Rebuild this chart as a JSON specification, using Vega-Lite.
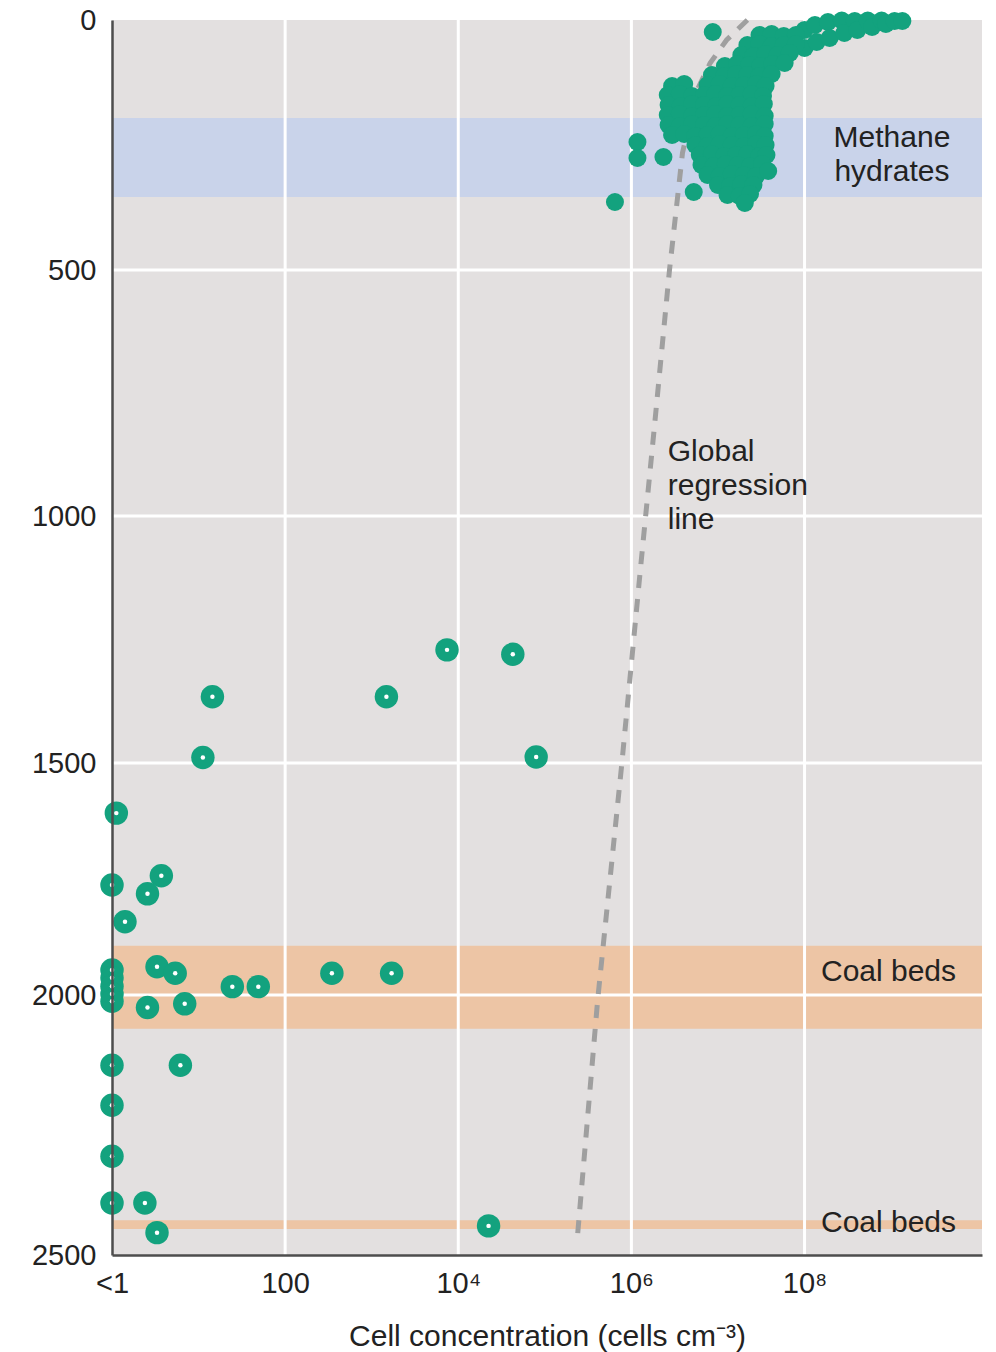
{
  "$schema": "https://vega.github.io/schema/vega-lite/v6.json",
  "width": 870,
  "height": 1235,
  "autosize": {"type": "none"},
  "padding": {"left": 112, "top": 20, "right": 14, "bottom": 97},
  "background": "white",
  "config": {"view": {"fill": "#e3e0e0", "stroke": null}, "font": "Liberation Sans"},
  "datasets": {
    "bands": [
      {"kind": "methane", "depth": 196, "depth_end": 354},
      {"kind": "coal", "depth": 1894, "depth_end": 2065},
      {"kind": "coal", "depth": 2433, "depth_end": 2450}
    ],
    "xgrid": [{"logc": 2}, {"logc": 4}, {"logc": 6}, {"logc": 8}],
    "ygrid": [{"depth": 500}, {"depth": 1000}, {"depth": 1500}, {"depth": 2000}],
    "line": [
      {"logc": 7.34, "depth": 0},
      {"logc": 7.10, "depth": 40},
      {"logc": 6.91, "depth": 86},
      {"logc": 6.76, "depth": 140},
      {"logc": 6.59, "depth": 266},
      {"logc": 6.44, "depth": 500},
      {"logc": 6.27, "depth": 811},
      {"logc": 6.10, "depth": 1115},
      {"logc": 5.89, "depth": 1500},
      {"logc": 5.61, "depth": 2010},
      {"logc": 5.38, "depth": 2458},
      {"logc": 5.37, "depth": 2471}
    ],
    "solid": [
      {"logc": 8.00, "depth": 20}, {"logc": 8.00, "depth": 56}, {"logc": 8.12, "depth": 10}, {"logc": 8.14, "depth": 44},
      {"logc": 8.27, "depth": 4}, {"logc": 8.29, "depth": 36}, {"logc": 8.43, "depth": 1}, {"logc": 8.46, "depth": 26},
      {"logc": 8.58, "depth": 2}, {"logc": 8.61, "depth": 20}, {"logc": 8.73, "depth": 1}, {"logc": 8.78, "depth": 14},
      {"logc": 8.89, "depth": 1}, {"logc": 8.94, "depth": 8}, {"logc": 9.04, "depth": 2}, {"logc": 9.13, "depth": 2},
      {"logc": 7.48, "depth": 30}, {"logc": 7.62, "depth": 28}, {"logc": 7.76, "depth": 32}, {"logc": 7.90, "depth": 30},
      {"logc": 7.34, "depth": 50}, {"logc": 7.48, "depth": 48}, {"logc": 7.62, "depth": 52}, {"logc": 7.76, "depth": 50}, {"logc": 7.90, "depth": 48},
      {"logc": 7.27, "depth": 70}, {"logc": 7.41, "depth": 72}, {"logc": 7.55, "depth": 68}, {"logc": 7.69, "depth": 70}, {"logc": 7.83, "depth": 66},
      {"logc": 7.08, "depth": 92}, {"logc": 7.22, "depth": 88}, {"logc": 7.36, "depth": 90}, {"logc": 7.49, "depth": 92}, {"logc": 7.63, "depth": 88}, {"logc": 7.77, "depth": 86},
      {"logc": 6.93, "depth": 110}, {"logc": 7.07, "depth": 112}, {"logc": 7.21, "depth": 108}, {"logc": 7.34, "depth": 110}, {"logc": 7.48, "depth": 112}, {"logc": 7.62, "depth": 108},
      {"logc": 6.47, "depth": 132}, {"logc": 6.61, "depth": 128}, {"logc": 6.88, "depth": 130}, {"logc": 7.02, "depth": 128}, {"logc": 7.16, "depth": 132}, {"logc": 7.30, "depth": 130}, {"logc": 7.44, "depth": 128}, {"logc": 7.55, "depth": 132},
      {"logc": 6.42, "depth": 150}, {"logc": 6.56, "depth": 148}, {"logc": 6.70, "depth": 152}, {"logc": 6.84, "depth": 150}, {"logc": 6.97, "depth": 148}, {"logc": 7.11, "depth": 152}, {"logc": 7.25, "depth": 150}, {"logc": 7.39, "depth": 148}, {"logc": 7.52, "depth": 152},
      {"logc": 6.43, "depth": 170}, {"logc": 6.57, "depth": 172}, {"logc": 6.70, "depth": 168}, {"logc": 6.84, "depth": 170}, {"logc": 6.98, "depth": 172}, {"logc": 7.11, "depth": 168}, {"logc": 7.25, "depth": 170}, {"logc": 7.39, "depth": 172}, {"logc": 7.53, "depth": 168},
      {"logc": 6.42, "depth": 190}, {"logc": 6.56, "depth": 188}, {"logc": 6.70, "depth": 192}, {"logc": 6.84, "depth": 190}, {"logc": 6.97, "depth": 188}, {"logc": 7.11, "depth": 192}, {"logc": 7.25, "depth": 190}, {"logc": 7.39, "depth": 188}, {"logc": 7.54, "depth": 192},
      {"logc": 6.43, "depth": 210}, {"logc": 6.56, "depth": 212}, {"logc": 6.70, "depth": 208}, {"logc": 6.84, "depth": 210}, {"logc": 6.97, "depth": 212}, {"logc": 7.11, "depth": 208}, {"logc": 7.25, "depth": 210}, {"logc": 7.39, "depth": 212}, {"logc": 7.54, "depth": 208},
      {"logc": 6.47, "depth": 230}, {"logc": 6.61, "depth": 228}, {"logc": 6.74, "depth": 232}, {"logc": 6.88, "depth": 230}, {"logc": 7.02, "depth": 228}, {"logc": 7.16, "depth": 232}, {"logc": 7.30, "depth": 230}, {"logc": 7.44, "depth": 228}, {"logc": 7.54, "depth": 232},
      {"logc": 6.74, "depth": 250}, {"logc": 6.88, "depth": 252}, {"logc": 7.02, "depth": 248}, {"logc": 7.16, "depth": 250}, {"logc": 7.30, "depth": 252}, {"logc": 7.44, "depth": 248}, {"logc": 7.55, "depth": 250},
      {"logc": 6.79, "depth": 270}, {"logc": 6.93, "depth": 268}, {"logc": 7.07, "depth": 272}, {"logc": 7.21, "depth": 270}, {"logc": 7.34, "depth": 268}, {"logc": 7.48, "depth": 272}, {"logc": 7.56, "depth": 270},
      {"logc": 6.81, "depth": 290}, {"logc": 6.95, "depth": 292}, {"logc": 7.09, "depth": 288}, {"logc": 7.23, "depth": 290}, {"logc": 7.37, "depth": 292}, {"logc": 7.51, "depth": 288},
      {"logc": 6.88, "depth": 310}, {"logc": 7.02, "depth": 312}, {"logc": 7.16, "depth": 308}, {"logc": 7.30, "depth": 310}, {"logc": 7.44, "depth": 312}, {"logc": 7.58, "depth": 302},
      {"logc": 7.00, "depth": 330}, {"logc": 7.14, "depth": 332}, {"logc": 7.27, "depth": 328}, {"logc": 7.41, "depth": 330},
      {"logc": 7.11, "depth": 350}, {"logc": 7.25, "depth": 352}, {"logc": 7.37, "depth": 348},
      {"logc": 7.31, "depth": 366},
      {"logc": 6.94, "depth": 24}, {"logc": 6.07, "depth": 244}, {"logc": 6.07, "depth": 276}, {"logc": 6.37, "depth": 274},
      {"logc": 5.81, "depth": 364}, {"logc": 6.72, "depth": 344}
    ],
    "ring": [
      {"logc": 1.16, "depth": 1366}, {"logc": 1.05, "depth": 1489}, {"logc": 3.17, "depth": 1366}, {"logc": 3.87, "depth": 1271},
      {"logc": 4.63, "depth": 1280}, {"logc": 4.90, "depth": 1488}, {"logc": 0.05, "depth": 1608}, {"logc": 0, "depth": 1763},
      {"logc": 0.57, "depth": 1743}, {"logc": 0.41, "depth": 1782}, {"logc": 0.15, "depth": 1842},
      {"logc": 0, "depth": 1946}, {"logc": 0, "depth": 1963}, {"logc": 0, "depth": 1981}, {"logc": 0, "depth": 1998}, {"logc": 0, "depth": 2012},
      {"logc": 0.52, "depth": 1939}, {"logc": 0.73, "depth": 1953}, {"logc": 1.39, "depth": 1982}, {"logc": 1.69, "depth": 1982},
      {"logc": 0.41, "depth": 2024}, {"logc": 0.84, "depth": 2017}, {"logc": 2.54, "depth": 1953}, {"logc": 3.23, "depth": 1953},
      {"logc": 0, "depth": 2135}, {"logc": 0.79, "depth": 2135}, {"logc": 0, "depth": 2212}, {"logc": 0, "depth": 2310},
      {"logc": 0, "depth": 2400}, {"logc": 0.38, "depth": 2400}, {"logc": 0.52, "depth": 2457}, {"logc": 4.35, "depth": 2444}
    ],
    "labels_c": [
      {"logc": 9.01, "depth": 236, "text": "Methane\nhydrates"},
      {"logc": 8.97, "depth": 1950, "text": "Coal beds"},
      {"logc": 8.97, "depth": 2438, "text": "Coal beds"}
    ],
    "labels_l": [
      {"logc": 6.42, "depth": 870, "text": "Global\nregression\nline"}
    ]
  },
  "encoding": {
    "x": {
      "field": "logc",
      "type": "quantitative",
      "scale": {"domain": [0, 10.05], "nice": false, "zero": false},
      "axis": {
        "values": [0, 2, 4, 6, 8],
        "labelExpr": "datum.value == 0 ? '<1' : datum.value == 2 ? '100' : datum.value == 4 ? '10⁴' : datum.value == 6 ? '10⁶' : '10⁸'",
        "ticks": false,
        "grid": false,
        "domainColor": "#4d4d4d",
        "domainWidth": 2.5,
        "labelFontSize": 29,
        "labelColor": "#222222",
        "labelPadding": 14,
        "labelFlush": false,
        "labelOverlap": false,
        "title": "Cell concentration (cells cm⁻³)",
        "titleFontSize": 30,
        "titleFontWeight": "normal",
        "titleColor": "#222222",
        "titlePadding": 23,
        "zindex": 1
      }
    },
    "y": {
      "field": "depth",
      "type": "quantitative",
      "scale": {"domain": [0, 500, 1000, 1500, 2000, 2500], "range": [0, 250, 496, 743, 975, 1235], "nice": false, "zero": false},
      "axis": {
        "values": [0, 500, 1000, 1500, 2000, 2500],
        "format": "d",
        "ticks": false,
        "grid": false,
        "domainColor": "#4d4d4d",
        "domainWidth": 2.5,
        "labelFontSize": 29,
        "labelColor": "#222222",
        "labelPadding": 16,
        "labelOverlap": false,
        "title": null,
        "zindex": 1
      }
    }
  },
  "layer": [
    {
      "data": {"name": "bands"},
      "mark": {"type": "rect"},
      "encoding": {
        "x": {"value": 0},
        "x2": {"value": "width"},
        "y2": {"field": "depth_end"},
        "color": {"field": "kind", "type": "nominal", "scale": {"domain": ["methane", "coal"], "range": ["#c9d3ea", "#edc5a5"]}, "legend": null}
      }
    },
    {
      "data": {"name": "xgrid"},
      "mark": {"type": "rule", "color": "white", "strokeWidth": 3},
      "encoding": {"y": {"value": 0}, "y2": {"value": "height"}}
    },
    {
      "data": {"name": "ygrid"},
      "mark": {"type": "rule", "color": "white", "strokeWidth": 3},
      "encoding": {"x": {"value": 0}, "x2": {"value": "width"}}
    },
    {
      "data": {"name": "line"},
      "mark": {"type": "line", "color": "#9f9f9f", "strokeWidth": 5, "strokeDash": [13, 11]},
      "encoding": {"order": {"field": "depth", "type": "quantitative"}}
    },
    {
      "data": {"name": "solid"},
      "mark": {"type": "circle", "size": 324, "color": "#13a27e", "opacity": 1}
    },
    {
      "data": {"name": "ring"},
      "mark": {"type": "circle", "size": 550, "color": "#13a27e", "opacity": 1}
    },
    {
      "data": {"name": "ring"},
      "mark": {"type": "circle", "size": 20, "color": "white", "opacity": 1}
    },
    {
      "data": {"name": "labels_c"},
      "mark": {"type": "text", "align": "center", "baseline": "middle", "fontSize": 30, "lineHeight": 34, "lineBreak": "\n", "color": "#222222"},
      "encoding": {"text": {"field": "text"}}
    },
    {
      "data": {"name": "labels_l"},
      "mark": {"type": "text", "align": "left", "baseline": "middle", "fontSize": 30, "lineHeight": 34, "lineBreak": "\n", "color": "#222222"},
      "encoding": {"text": {"field": "text"}}
    }
  ]
}
